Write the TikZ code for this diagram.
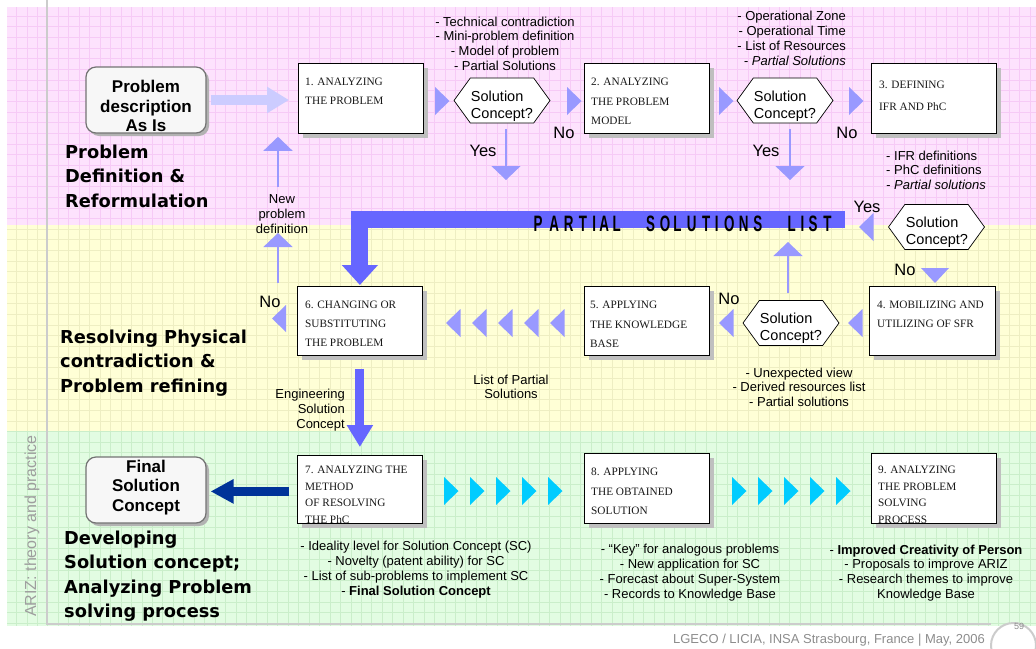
\documentclass[tikz,border=0pt]{standalone}
\usepackage{fontspec}
\usepackage{graphicx}
\setmainfont{Liberation Serif}
\newfontfamily\arial{Liberation Sans}
\newfontfamily\verd{DejaVu Sans}
\usetikzlibrary{shapes.symbols,shadows,arrows.meta}

\definecolor{bandpink}{RGB}{253,226,253}
\definecolor{gridpink}{RGB}{246,202,246}
\definecolor{bandyellow}{RGB}{255,255,214}
\definecolor{gridyellow}{RGB}{238,238,194}
\definecolor{bandgreen}{RGB}{226,252,226}
\definecolor{gridgreen}{RGB}{202,238,202}
\definecolor{lilac}{RGB}{153,153,255}
\definecolor{paleblue}{RGB}{204,204,255}
\definecolor{barblue}{RGB}{102,102,255}
\definecolor{navy}{RGB}{0,51,153}
\definecolor{skyblue}{RGB}{0,204,255}
\definecolor{rulegray}{RGB}{204,204,204}

% grid over one coloured band: x0 y0 x1 y1 colour
\newcommand\bandgrid[5]{%
  \begin{scope}
    \clip (#1,#2) rectangle (#3,#4);
    \draw[#5, line width=0.7pt]
      \foreach \i in {0,...,99} {(6+\i*10.45,#2) -- (6+\i*10.45,#4)}
      \foreach \j in {0,...,61} {(#1,5.5+\j*10.65) -- (#3,5.5+\j*10.65)};
  \end{scope}}

% small filled arrow markers
\newcommand\triR[3][marker]{\fill[#1] (#2,#3-14) -- (#2+14.5,#3) -- (#2,#3+14) -- cycle;}
\newcommand\triL[3][marker]{\fill[#1] (#2,#3) -- (#2+14.5,#3-14) -- (#2+14.5,#3+14) -- cycle;}
\newcommand\triD[3][marker]{\fill[#1] (#2,#3) -- (#2-14,#3-15) -- (#2+14,#3-15) -- cycle;}

\tikzset{
  marker/.style={fill=lilac},
  cyanmarker/.style={fill=skyblue},
  stepbox/.style={draw=black, fill=white, line width=0.8pt, anchor=north west,
    inner sep=0pt, minimum width=125pt, minimum height=70pt,
    drop shadow={shadow xshift=5pt, shadow yshift=-5pt, fill=black!25, opacity=1}},
  boxtext/.style={anchor=north west, inner sep=0pt, align=left, text=black!90},
  decision/.style={shape=signal, signal to=east and west, signal pointer angle=108,
    draw=black, fill=white, line width=0.7pt, minimum width=96pt, minimum height=45pt,
    inner sep=0pt},
  dectext/.style={inner sep=0pt, align=left, font=\arial\fontsize{14.5}{17}\selectfont},
  startend/.style={draw=black!55, fill=black!3, line width=1.2pt, rounded corners=10pt,
    minimum width=120pt, minimum height=66pt, inner sep=0pt,
    drop shadow={shadow xshift=3pt, shadow yshift=-3pt, fill=black!30, opacity=1}},
  setext/.style={inner sep=0pt, align=center, font=\arial\bfseries\fontsize{17}{19.8}\selectfont},
  note/.style={inner sep=0pt, font=\arial\fontsize{13}{14.8}\selectfont},
  phase/.style={anchor=north west, inner sep=0pt, align=left,
    font=\verd\bfseries\fontsize{17.8}{24.2}\selectfont},
  lbl/.style={inner sep=0pt, font=\arial\fontsize{16.5}{18}\selectfont},
  thinarrow/.style={draw=lilac, line width=1.3pt, -{Triangle[width=29pt,length=14pt]}},
  pslet/.style={inner sep=0pt, font=\arial\bfseries\fontsize{22.3}{22}\selectfont},
}

\begin{document}
\begin{tikzpicture}[x=1pt, y=-1pt]
\useasboundingbox (0,0) rectangle (1036,648);

% ---- background bands with grid ----
\fill[bandpink] (7,7) rectangle (1036,225);
\fill[bandyellow] (7,225) rectangle (1036,430.5);
\fill[bandgreen] (7,430.5) rectangle (1036,626);
\bandgrid{7}{7}{1036}{225}{gridpink}
\bandgrid{7}{225}{1036}{430.5}{gridyellow}
\bandgrid{7}{430.5}{1036}{626}{gridgreen}
\draw[rulegray, line width=2pt] (47,0) -- (47,624) -- (991,624);
\draw[rulegray, line width=2pt, fill=white] (1013.5,645.5) circle[radius=22.5pt];

\node[rotate=90, inner sep=0pt, font=\arial\fontsize{16}{16}\selectfont, text=black!38] (ariz) at (32,526) {ARIZ: theory and practice};
\node[anchor=east, inner sep=0pt, font=\arial\fontsize{13}{13}\selectfont, text=black!45] (foot) at (985,640) {LGECO / LICIA, INSA Strasbourg, France | May, 2006};
\node[inner sep=0pt, font=\arial\fontsize{9}{9}\selectfont, text=black!45] (pgno) at (1019,626) {59};

% ---- phase titles ----
\node[phase] (ph1) at (65,145) {Problem\\Definition \&\\Reformulation};
\node[phase] (ph2) at (60,330) {Resolving Physical\\contradiction \&\\Problem refining};
\node[phase] (ph3) at (64,531) {Developing\\Solution concept;\\Analyzing Problem\\solving process};

% ---- start and end ----
\node[startend] (p0) at (146,100) {};
\node[setext] (p0t) at (146,106) {Problem\\description\\As Is};
\node[startend] (f0) at (146,490) {};
\node[setext] (f0t) at (146,487.5) {Final\\Solution\\Concept};

% ---- steps ----
\node[stepbox] (b1) at (298,63) {};
\node[stepbox] (b2) at (584,63) {};
\node[stepbox] (b3) at (871,63) {};
\node[stepbox, minimum width=126pt, minimum height=69pt] (b4) at (869,286) {};
\node[stepbox, minimum height=69pt] (b5) at (584,286) {};
\node[stepbox, minimum height=69pt] (b6) at (297,286) {};
\node[stepbox, minimum height=68pt] (b7) at (297,455) {};
\node[stepbox] (b8) at (584,453) {};
\node[stepbox] (b9) at (871,453) {};

\node[boxtext, font=\fontsize{11.3}{19}\selectfont] (b1t) at (305,78.2) {1. ANALYZING\\THE PROBLEM};
\node[boxtext, font=\fontsize{11.3}{19.5}\selectfont] (b2t) at (591,78.2) {2. ANALYZING\\THE PROBLEM\\MODEL};
\node[boxtext, font=\fontsize{11.3}{22}\selectfont] (b3t) at (879,81.2) {3. DEFINING\\IFR AND PhC};
\node[boxtext, font=\fontsize{11.3}{19}\selectfont] (b4t) at (877,301.2) {4. MOBILIZING AND\\UTILIZING OF SFR};
\node[boxtext, font=\fontsize{11.3}{19.5}\selectfont] (b5t) at (590,301.2) {5. APPLYING\\THE KNOWLEDGE\\BASE};
\node[boxtext, font=\fontsize{11.3}{19}\selectfont] (b6t) at (305,301.2) {6. CHANGING OR\\SUBSTITUTING\\THE PROBLEM};
\node[boxtext, font=\fontsize{11.3}{16.4}\selectfont] (b7t) at (305,466.2) {7. ANALYZING THE\\METHOD\\OF RESOLVING\\THE PhC};
\node[boxtext, font=\fontsize{11.3}{19.5}\selectfont] (b8t) at (591,468.2) {8. APPLYING\\THE OBTAINED\\SOLUTION};
\node[boxtext, font=\fontsize{11.3}{16.4}\selectfont] (b9t) at (878,466.2) {9. ANALYZING\\THE PROBLEM\\SOLVING\\PROCESS};

% ---- decisions ----
\node[decision] (h1) at (502,100.5) {};
\node[decision] (h2) at (785,100.5) {};
\node[decision] (h3) at (936.5,227) {};
\node[decision] (h4) at (791,323) {};
\node[dectext] (h1t) at (502,106) {Solution\\Concept?};
\node[dectext] (h2t) at (785,106) {Solution\\Concept?};
\node[dectext] (h3t) at (937,232.5) {Solution\\Concept?};
\node[dectext] (h4t) at (791,328.5) {Solution\\Concept?};

% ---- notes ----
\node[note, anchor=north, align=center] (n1) at (505,16.4) {- Technical contradiction\\- Mini-problem definition\\- Model of problem\\- Partial Solutions};
\node[note, anchor=north east, align=right, font=\arial\fontsize{13}{15}\selectfont] (n2) at (846,10.4) {- Operational Zone\\- Operational Time\\- List of Resources\\\textit{- Partial Solutions}};
\node[note, anchor=north west, align=left] (n3) at (886,150.4) {- IFR definitions\\- PhC definitions\\\textit{- Partial solutions}};
\node[note, anchor=north, align=center] (n4) at (799,367.4) {- Unexpected view\\- Derived resources list\\- Partial solutions};
\node[note, anchor=north, align=center, font=\arial\fontsize{13}{14.2}\selectfont] (n5) at (511,374.4) {List of Partial\\Solutions};
\node[note, anchor=north east, align=right, font=\arial\fontsize{13}{15}\selectfont] (n6) at (345,388.4) {Engineering\\Solution\\Concept};
\node[note, anchor=north, align=center, font=\arial\fontsize{13}{15}\selectfont] (n7) at (282,194.4) {New\\problem\\definition};
\node[note, anchor=north, align=center, font=\arial\fontsize{13}{15}\selectfont] (n8) at (416,540.4) {- Ideality level for Solution Concept (SC)\\- Novelty (patent ability) for SC\\- List of sub-problems to implement SC\\- \textbf{Final Solution Concept}};
\node[note, anchor=north, align=center, font=\arial\fontsize{13}{15}\selectfont] (n9) at (690,543.4) {- “Key” for analogous problems\\- New application for SC\\- Forecast about Super-System\\- Records to Knowledge Base};
\node[note, anchor=north, align=center, font=\arial\fontsize{13}{14.8}\selectfont] (n10) at (926,544.4) {- \textbf{Improved Creativity of Person}\\- Proposals to improve ARIZ\\- Research themes to improve\\Knowledge Base};

% ---- yes / no labels ----
\node[lbl] (no1) at (564,133) {No};
\node[lbl] (no2) at (847,133) {No};
\node[lbl] (no3) at (905,270) {No};
\node[lbl] (no4) at (729,299) {No};
\node[lbl] (no5) at (270,302) {No};
\node[lbl] (yes1) at (483,151) {Yes};
\node[lbl] (yes2) at (766,151) {Yes};
\node[lbl] (yes3) at (867,207) {Yes};

% ---- flow markers ----
\triR{435}{101} \triR{567}{101} \triR{719}{101} \triR{849}{101}
\triL{859}{227} \triD{935}{283}
\triL{848}{323} \triL{719}{323}
\foreach \t in {446,472,498,524,550} {\triL{\t}{323}}
\fill[marker] (272,318.5) -- (286,305) -- (286,332) -- cycle;
\foreach \t in {444,470,496,522,548,732,758,784,810,836} {\triR[cyanmarker]{\t}{491}}

% ---- connectors ----
\draw[paleblue, line width=10pt, -{Triangle[width=25pt,length=22pt]}]
  ([xshift=4pt]p0.east) -- ([xshift=-9pt]p0.east -| b1.west);

\coordinate (yes1tip) at (506,180);
\coordinate (yes2tip) at (790,180);
\coordinate (uptip) at (788,242);
\coordinate (np1tip) at (278,233);
\coordinate (np2start) at (278,187);
\draw[thinarrow] ([xshift=4pt,yshift=-5.5pt]h1.south) -- (yes1tip);
\draw[thinarrow] ([xshift=5pt,yshift=-5.5pt]h2.south) -- (yes2tip);
\draw[thinarrow] ([xshift=-3pt,yshift=7pt]h4.north) -- (uptip);
\draw[thinarrow] ([xshift=-19pt,yshift=3pt]b6.north west) -- (np1tip);
\draw[thinarrow] (np2start) -- ([xshift=-20pt,yshift=-3pt]b1.south west);

% partial solutions list
\coordinate (pslstart) at (845,219.5);
\draw[barblue, line width=17pt, line join=miter, -{Triangle[width=35pt,length=20pt]}]
  (pslstart) -| ([yshift=1pt]b6.north);
\foreach \l/\xx [count=\i] in {P/538.2,A/554.3,R/568.6,T/582.9,I/594.3,A/604.3,L/616.8,
  S/650.7,O/665,L/677.5,U/691.8,T/706.1,I/716.8,O/729.3,N/743.6,S/757.9,
  L/791.8,I/802.5,S/813.2,T/827.5}
  {\node[pslet] (psl\i) at (\xx,224) {\scalebox{0.6}[1]{\l}};}

\draw[barblue, line width=9pt, -{Triangle[width=25pt,length=22pt]}]
  ([yshift=-13pt]b6.south) -- ([yshift=8pt]b7.north);
\draw[navy, line width=9pt, -{Triangle[width=23pt,length=23pt]}]
  ([xshift=-8pt,yshift=-2pt]b7.west) -- ([xshift=4pt,yshift=-2pt]f0.east |- b7.west);

\end{tikzpicture}
\end{document}
